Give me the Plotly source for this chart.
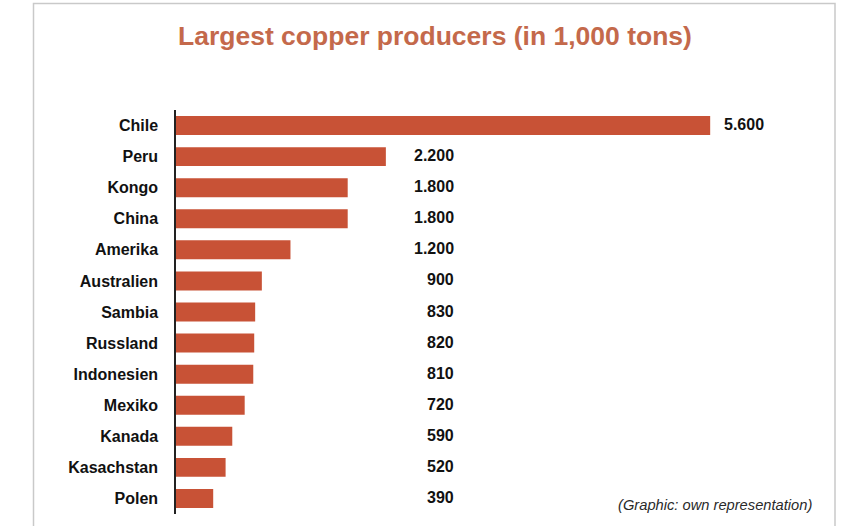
import plotly.graph_objects as go

# Copper production by country, in 1,000 tons
countries = ["Chile", "Peru", "Kongo", "China", "Amerika", "Australien", "Sambia",
             "Russland", "Indonesien", "Mexiko", "Kanada", "Kasachstan", "Polen"]
production = [5600, 2200, 1800, 1800, 1200, 900, 830, 820, 810, 720, 590, 520, 390]
value_labels = ["5.600", "2.200", "1.800", "1.800", "1.200", "900", "830",
                "820", "810", "720", "590", "520", "390"]

title_text = "Largest copper producers (in 1,000 tons)"
source_text = "(Graphic: own representation)"

BAR_COLOR = "#c85236"
TITLE_COLOR = "#c4694b"
LABEL_FONT = "Liberation Sans, Arial, sans-serif"

X_MAX = 6290          # value-axis range
LABEL_COLUMN = 2935   # right edge of the value-label column (data units)

fig = go.Figure()
fig.add_trace(go.Bar(
    x=production,
    y=countries,
    orientation="h",
    marker=dict(color=BAR_COLOR, line=dict(width=0)),
    width=0.61,
    hoverinfo="x+y",
))

label_font = dict(family=LABEL_FONT, size=16, color="#111111", weight="bold")

# value labels: the largest sits right after its bar, the rest in one column
annotations = []
for i, (c, v, t) in enumerate(zip(countries, production, value_labels)):
    if i == 0:
        annotations.append(dict(x=v, y=c, xref="x", yref="y", text=t, showarrow=False,
                                xanchor="left", xshift=12, yshift=1, font=label_font))
    else:
        annotations.append(dict(x=LABEL_COLUMN, y=c, xref="x", yref="y", text=t, showarrow=False,
                                xanchor="right", yshift=1, font=label_font))

W, H = 849, 526
ML, MR, MT, MB = 176, 73, 110, 12
pw, ph = W - ML - MR, H - MT - MB

def px_x(p):
    return (p - ML) / pw

def px_y(p):
    return (H - MB - p) / ph

annotations.append(dict(
    x=px_x(434.5), y=px_y(36), xref="paper", yref="paper", text="<b>" + title_text + "</b>",
    showarrow=False, xanchor="center", yanchor="middle",
    font=dict(family=LABEL_FONT, size=26.5, color=TITLE_COLOR),
))
annotations.append(dict(
    x=px_x(814), y=px_y(505), xref="paper", yref="paper", text="<i>" + source_text + "</i>",
    showarrow=False, xanchor="right", yanchor="middle",
    font=dict(family="Liberation Sans Narrow, Arial Narrow, Liberation Sans, sans-serif",
              size=14.7, color="#2a2a2a"),
))

fig.update_layout(
    width=W, height=H,
    margin=dict(l=ML, r=MR, t=MT, b=MB),
    paper_bgcolor="white",
    plot_bgcolor="white",
    showlegend=False,
    annotations=annotations,
    xaxis=dict(range=[0, X_MAX], visible=False, fixedrange=True),
    yaxis=dict(
        autorange="reversed",
        showgrid=False,
        showline=True, linecolor="#222222", linewidth=1.5,
        ticks="", ticklabelstandoff=13,
        tickfont=label_font,
        fixedrange=True,
    ),
    shapes=[dict(
        type="rect", xref="paper", yref="paper",
        x0=px_x(33.5), x1=px_x(835), y0=px_y(560), y1=px_y(3.5),
        line=dict(color="#c9c9c9", width=1.5), fillcolor="rgba(0,0,0,0)", layer="below",
    )],
)

fig.write_html("out.html")
